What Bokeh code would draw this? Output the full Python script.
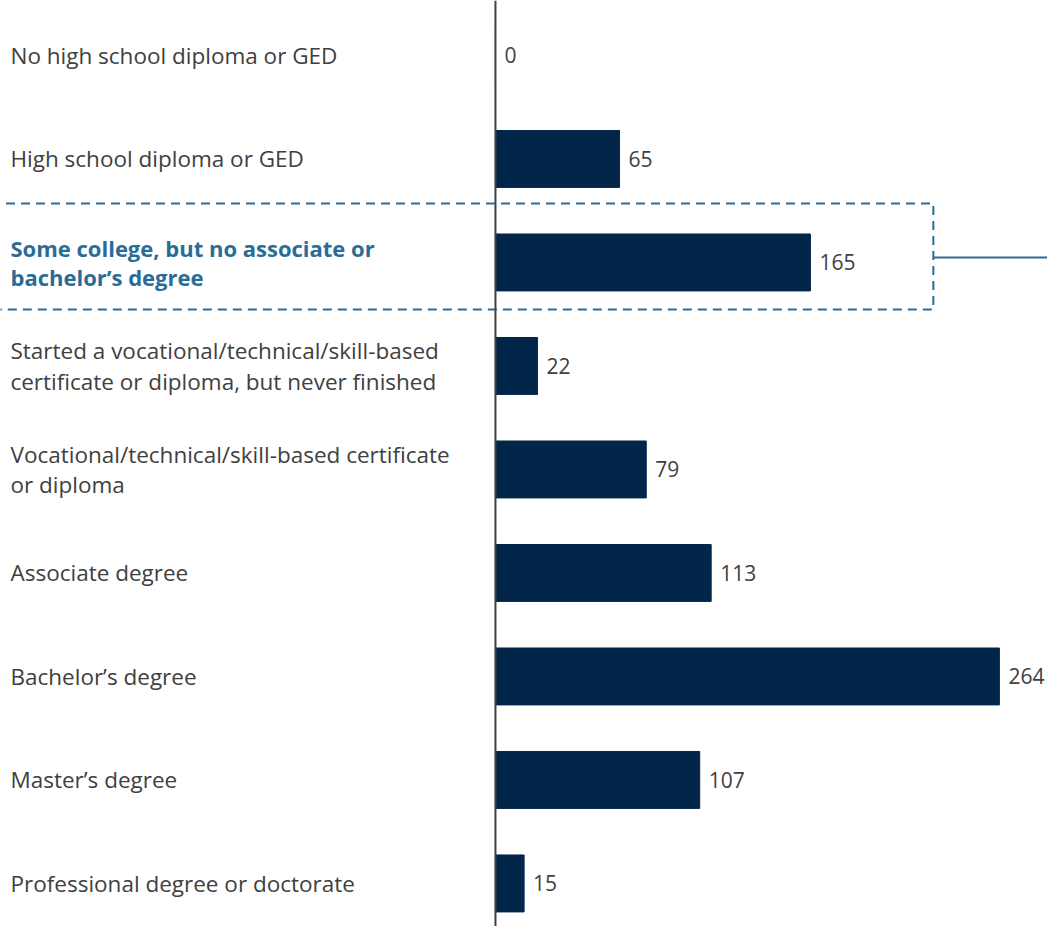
from bokeh.plotting import figure
from bokeh.models import Range1d, Span, ColumnDataSource
from bokeh.core.properties import value
from bokeh.embed import file_html
from bokeh.resources import INLINE

categories = [
    "No high school diploma or GED",
    "High school diploma or GED",
    "Some college, but no associate or\nbachelor\u2019s degree",
    "Started a vocational/technical/skill-based\ncertificate or diploma, but never finished",
    "Vocational/technical/skill-based certificate\nor diploma",
    "Associate degree",
    "Bachelor\u2019s degree",
    "Master\u2019s degree",
    "Professional degree or doctorate",
]
counts = [0, 65, 165, 22, 79, 113, 264, 107, 15]
highlight_index = 2

FONT = "Open Sans"
BAR = "#02264A"
TXT = "#404040"
HL = "#2A6C98"

idx = list(range(len(categories)))
normal = [i for i in idx if i != highlight_index]

p = figure(width=1047, height=926, output_backend="svg", toolbar_location=None,
           x_range=Range1d(-259.3, 289.2), y_range=Range1d(8.416, -0.531),
           min_border=0)
p.axis.visible = False
p.grid.visible = False
p.outline_line_color = None

bars = ColumnDataSource(dict(y=idx, v=counts, lbl=[str(c) for c in counts]))
p.hbar(y="y", left=0, right="v", height=0.55, source=bars, fill_color=BAR, line_color=BAR)
p.text(x="v", y="y", text="lbl", source=bars, x_offset=9, text_baseline="middle",
       text_font=value(FONT), text_font_size="21px", text_color=TXT)

src_n = ColumnDataSource(dict(y=normal, t=[categories[i] for i in normal]))
p.text(x=0, y="y", text="t", source=src_n, x_offset=-485, text_baseline="middle",
       text_font=value(FONT), text_font_size="22.5px", text_color=TXT, text_line_height=0.98)
src_h = ColumnDataSource(dict(y=[highlight_index], t=[categories[highlight_index]]))
p.text(x=0, y="y", text="t", source=src_h, x_offset=-485, text_baseline="middle",
       text_font=value(FONT), text_font_size="22px", text_font_style="bold", text_color=HL,
       text_line_height=0.98)

p.add_layout(Span(location=0, dimension="height", line_color=TXT, line_width=2))

# highlight box
hl = highlight_index
box_r = 229.4
p.multi_line(xs=[[-280, box_r, box_r, -280]], ys=[[hl - 0.57, hl - 0.57, hl + 0.455, hl + 0.455]],
             line_color=HL, line_width=2, line_dash="9 6")
p.segment(x0=[box_r], y0=[hl - 0.048], x1=[300], y1=[hl - 0.048], line_color=HL, line_width=2)

open("out.html", "w").write(file_html(p, INLINE))
